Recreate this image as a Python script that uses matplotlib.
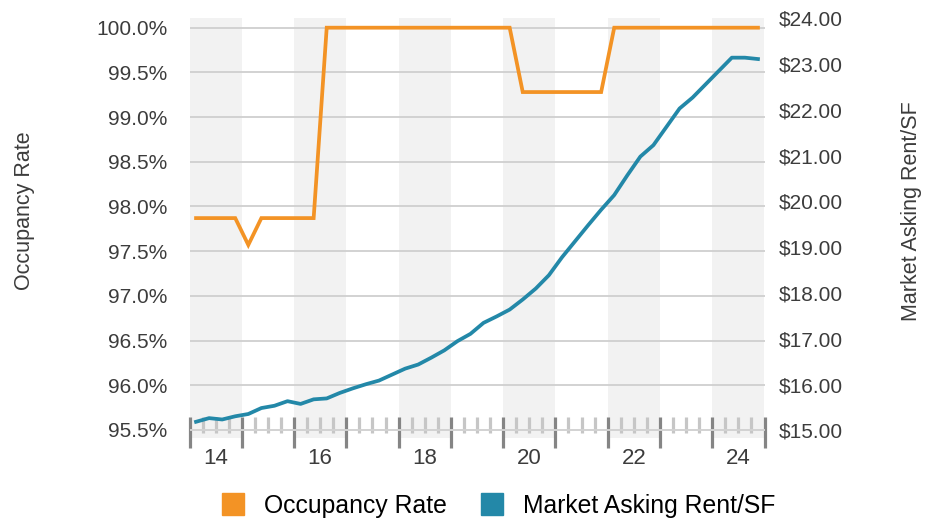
import numpy as np
import matplotlib
matplotlib.use('Agg')
import matplotlib.pyplot as plt
from matplotlib.ticker import FixedLocator, FuncFormatter
from matplotlib.lines import Line2D

plt.rcParams['font.family'] = ['Liberation Sans', 'DejaVu Sans']

# quarterly data, 2014 Q1 .. 2024 Q4
years = list(range(2014, 2025))
occupancy = [97.87, 97.87, 97.87, 97.87, 97.57, 97.87, 97.87, 97.87, 97.87, 97.87,
             100.0, 100.0, 100.0, 100.0, 100.0, 100.0, 100.0, 100.0, 100.0, 100.0,
             100.0, 100.0, 100.0, 100.0, 100.0, 99.28, 99.28, 99.28, 99.28, 99.28,
             99.28, 99.28, 100.0, 100.0, 100.0, 100.0, 100.0, 100.0, 100.0, 100.0,
             100.0, 100.0, 100.0, 100.0]
rent = [15.19, 15.27, 15.24, 15.31, 15.36, 15.49, 15.54, 15.64, 15.58, 15.68,
        15.70, 15.82, 15.92, 16.01, 16.09, 16.22, 16.35, 16.44, 16.59, 16.75,
        16.95, 17.11, 17.35, 17.49, 17.64, 17.86, 18.10, 18.39, 18.78, 19.13,
        19.48, 19.82, 20.14, 20.57, 20.98, 21.23, 21.63, 22.03, 22.27, 22.56,
        22.85, 23.14, 23.14, 23.11]
occ_ticks = [95.5, 96.0, 96.5, 97.0, 97.5, 98.0, 98.5, 99.0, 99.5, 100.0]
rent_ticks = [15, 16, 17, 18, 19, 20, 21, 22, 23, 24]

orange = '#F39325'
blue = '#2388A8'
text_col = '#3c3c3c'

x = years[0] + (np.arange(len(occupancy)) + 0.5) / 4

fig = plt.figure(figsize=(9.36, 5.19), dpi=100)
ax1 = fig.add_axes([189.5 / 936, 1 - 438 / 519, 575 / 936, 420.5 / 519])
ax2 = ax1.twinx()

for y in years[::2]:
    ax1.axvspan(y, y + 1, color='#f2f2f2', lw=0, zorder=0)

ax1.plot(x, occupancy, color=orange, lw=2.7, solid_joinstyle='miter', zorder=3)
ax2.plot(x, rent, color=blue, lw=2.7, zorder=3)

ax1.set_xlim(years[0], years[-1] + 1)
ax1.set_ylim(95.41, 100.114)
ax2.set_ylim(14.836, 24.017)

ax1.set_axisbelow(True)
ax1.yaxis.grid(True, color='#d2d2d2', lw=1.4)

ax1.yaxis.set_major_locator(FixedLocator(occ_ticks))
ax1.yaxis.set_major_formatter(FuncFormatter(lambda v, p: f'{v:.1f}%'))
ax1.tick_params(axis='y', length=0, pad=16, labelsize=15, labelcolor=text_col)

ax2.yaxis.set_major_locator(FixedLocator(rent_ticks))
ax2.yaxis.set_major_formatter(FuncFormatter(lambda v, p: f'${v:.2f}'))
ax2.tick_params(axis='y', length=0, pad=10, labelsize=15, labelcolor=text_col)
ax2.tick_params(axis='x', bottom=False, labelbottom=False)


def year_label(v, p):
    yr = int(v)
    if abs(v - yr - 0.5) < 1e-6 and yr % 2 == 0:
        return f'{yr % 100}'
    return ''


# year boundaries as major ticks, quarter boundaries as minor ticks
bounds = years + [years[-1] + 1]
quarter_marks = [y + q / 4 for y in years for q in (1, 2, 3)]
ax1.xaxis.set_major_locator(FixedLocator(bounds))
ax1.xaxis.set_major_formatter(FuncFormatter(lambda v, p: ''))
ax1.xaxis.set_minor_locator(FixedLocator(quarter_marks))
ax1.xaxis.set_minor_formatter(FuncFormatter(year_label))
ax1.tick_params(axis='x', which='major', direction='out', length=22.3, width=2.3,
                color='#858585')
ax1.tick_params(axis='x', which='minor', direction='out', length=11.5, width=2.3,
                color='#c6c6c6', pad=10.5, labelsize=16, labelcolor=text_col)

for ax in (ax1, ax2):
    for s in ax.spines.values():
        s.set_color('none')
ax1.spines['bottom'].set_position(('data', 95.645))

fig.text(25 / 936, 1 - 211 / 519, 'Occupancy Rate', rotation=90, ha='center',
         va='center', fontsize=15.5, color=text_col)
fig.text(911 / 936, 1 - 211 / 519, 'Market Asking Rent/SF', rotation=90,
         ha='center', va='center', fontsize=15.5, color=text_col)

handles = [Line2D([], [], ls='none', marker='s', ms=16.5, mfc=orange, mec=orange),
           Line2D([], [], ls='none', marker='s', ms=16.5, mfc=blue, mec=blue)]
fig.legend(handles, ['Occupancy Rate', 'Market Asking Rent/SF'], ncol=2,
           loc='center', bbox_to_anchor=(498 / 936, 1 - 506 / 519), frameon=False,
           fontsize=17.8, handlelength=1.0, handletextpad=0.75, columnspacing=1.35)

fig.savefig('out.png', dpi=100)
